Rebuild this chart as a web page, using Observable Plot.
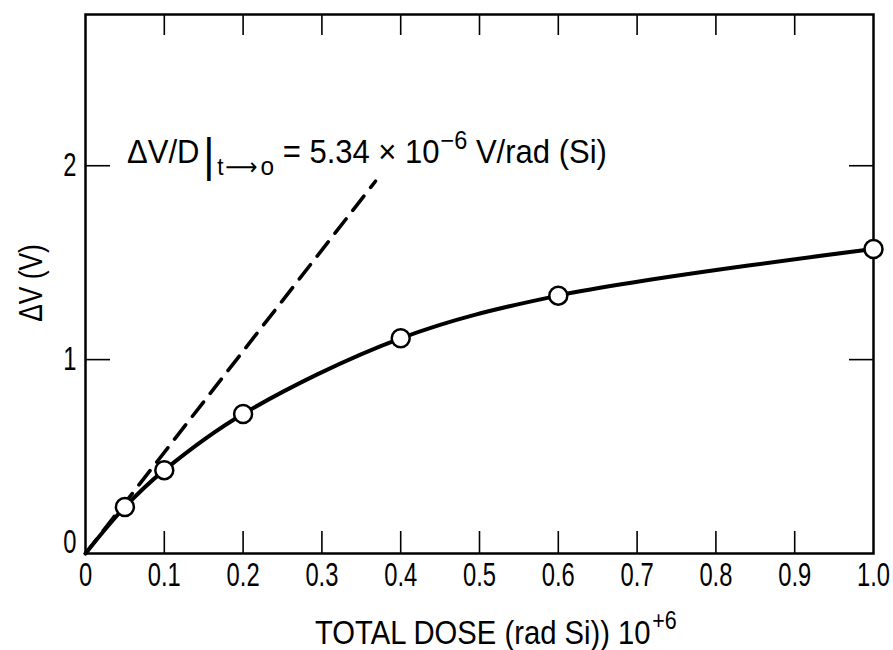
<!DOCTYPE html>
<html><head><meta charset="utf-8">
<script src="https://cdn.jsdelivr.net/npm/d3@7"></script>
<script src="https://cdn.jsdelivr.net/npm/@observablehq/plot@0.6"></script>
<style>body{margin:0;background:#fff}</style>
</head><body><div id="chart"></div>
<script>
// measured points (total dose in 10^6 rad(Si), ΔV in volts)
const pointDose = [0.05, 0.1, 0.2, 0.4, 0.6, 1.0];
const pointDV   = [0.24, 0.43, 0.72, 1.11, 1.33, 1.57];
// smooth curve starts at origin
const curveDose = [0, 0.05, 0.1, 0.2, 0.4, 0.6, 1.0];
const curveDV   = [0, 0.24, 0.43, 0.72, 1.11, 1.33, 1.57];
// initial slope (dashed)
const slopeDose = [0, 0.368];
const slopeDV   = [0, 1.92];
// ticks
const xTicks = [0, 0.1, 0.2, 0.3, 0.4, 0.5, 0.6, 0.7, 0.8, 0.9, 1.0];
const xTickLabels = ["0", "0.1", "0.2", "0.3", "0.4", "0.5", "0.6", "0.7", "0.8", "0.9", "1.0"];
const xInnerTicks = [0.1, 0.2, 0.3, 0.4, 0.5, 0.6, 0.7, 0.8, 0.9];
const yTicks = [0, 1, 2];
const yTickLabels = ["0", "1", "2"];
const yInnerTicks = [1, 2];

const points = pointDose.map((d, i) => ({d, v: pointDV[i]}));
const curve = curveDose.map((d, i) => ({d, v: curveDV[i]}));
const slope = slopeDose.map((d, i) => ({d, v: slopeDV[i]}));

const F = '"Liberation Sans", Arial, sans-serif';
const yFmt = d => yTickLabels[yTicks.indexOf(d)];

const plot = Plot.plot({
  width: 893, height: 650,
  marginLeft: 85, marginRight: 20, marginTop: 14, marginBottom: 97,
  x: {domain: [0, 1]},
  y: {domain: [0, 2.78]},
  style: {fontFamily: F, fontSize: "33px", color: "#000", background: "#fff", overflow: "visible"},
  marks: [
    Plot.axisX(xTicks, {anchor: "bottom", tickSize: 0, tickPadding: 9, label: null,
      tickFormat: d => xTickLabels[xTicks.indexOf(d)], fontSize: 33}),
    Plot.axisX(xInnerTicks, {anchor: "bottom", tickSize: -22, fill: "none", label: null, strokeWidth: 1.6}),
    Plot.axisX(xInnerTicks, {anchor: "top", tickSize: -20, fill: "none", label: null, strokeWidth: 1.6}),
    Plot.axisY([1, 2], {anchor: "left", tickSize: 0, tickPadding: 9, label: null, tickFormat: yFmt, fontSize: 33}),
    Plot.axisY([0], {anchor: "left", tickSize: 0, tickPadding: 9, label: null, tickFormat: yFmt, fontSize: 33, dy: -11}),
    Plot.axisY(yInnerTicks, {anchor: "left", tickSize: -25, fill: "none", label: null, strokeWidth: 1.6}),
    Plot.axisY(yInnerTicks, {anchor: "right", tickSize: -25, fill: "none", label: null, strokeWidth: 1.6}),
    Plot.frame({stroke: "#000", strokeWidth: 2.5}),
    Plot.line(slope, {x: "d", y: "v", stroke: "#000", strokeWidth: 3.6, strokeDasharray: "18,11"}),
    Plot.line(curve, {x: "d", y: "v", stroke: "#000", strokeWidth: 4, curve: "catmull-rom"}),
    Plot.dot(points, {x: "d", y: "v", r: 9, fill: "white", stroke: "#000", strokeWidth: 2.5})
  ]
});
document.getElementById("chart").appendChild(plot);

const svg = d3.select(plot);

// condense tick labels (the original uses a condensed sans)
svg.selectAll('g[aria-label$="tick label"] text').each(function() {
  const t = this.getAttribute("transform") || "";
  this.setAttribute("transform", t + " scale(0.72,1)");
});

// annotation: ΔV/D|t→o = 5.34 × 10^-6 V/rad (Si)
const ann = svg.append("text")
  .attr("text-anchor", "start")
  .attr("font-family", F).attr("font-size", 33).attr("fill", "#000");
ann.append("tspan").text("ΔV/D");
ann.append("tspan").attr("dx", 4).attr("dy", 8).attr("font-size", 46).text("|");
ann.append("tspan").attr("dx", 3).attr("dy", 4).attr("font-size", 24).text("t");
ann.append("tspan").attr("dx", 2).attr("font-size", 24).attr("font-family", "DejaVu Sans").text("⟶");
ann.append("tspan").attr("dx", 3).attr("font-size", 26).text("o");
ann.append("tspan").attr("dy", -12).text(" = 5.34 × 10");
ann.append("tspan").attr("dx", 1).attr("dy", -14).attr("font-size", 25).text("−6");
ann.append("tspan").attr("dy", 14).text(" V/rad (Si)");
{
  const w = ann.node().getBBox().width;
  const sx = 480 / w;
  ann.attr("transform", `translate(127,163) scale(${sx},1)`);
}

// y axis label
svg.append("text")
  .attr("transform", "translate(30,283) rotate(-90) scale(0.8,1)")
  .attr("text-anchor", "middle").attr("dominant-baseline", "central")
  .attr("font-family", F).attr("font-size", 33).attr("fill", "#000")
  .text("ΔV (V)");

// x axis label
const xl = svg.append("text")
  .attr("transform", "translate(315,644) scale(0.86,1)")
  .attr("text-anchor", "start")
  .attr("font-family", F).attr("font-size", 34).attr("fill", "#000");
xl.append("tspan").text("TOTAL DOSE (rad Si)) 10");
xl.append("tspan").attr("dx", 2).attr("dy", -15).attr("font-size", 25).text("+6");
</script>
</body></html>
